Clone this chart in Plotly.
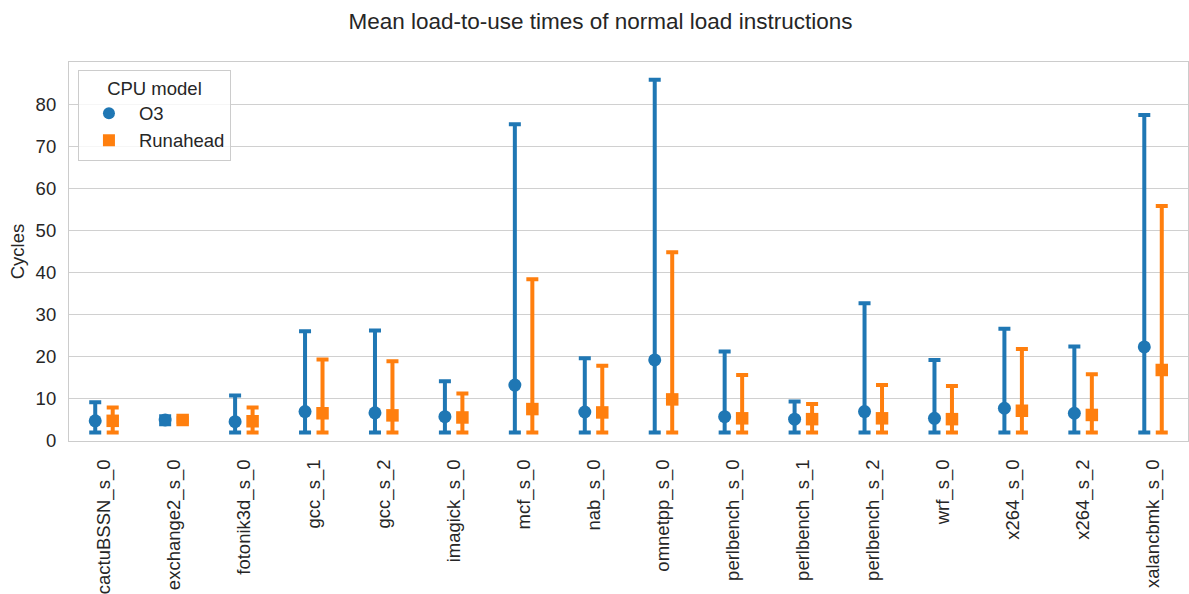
import plotly.graph_objects as go

# Benchmarks on the x axis
benchmarks = [
    "cactuBSSN_s_0", "exchange2_s_0", "fotonik3d_s_0", "gcc_s_1", "gcc_s_2",
    "imagick_s_0", "mcf_s_0", "nab_s_0", "omnetpp_s_0", "perlbench_s_0",
    "perlbench_s_1", "perlbench_s_2", "wrf_s_0", "x264_s_0", "x264_s_2",
    "xalancbmk_s_0",
]

# O3: mean load-to-use cycles with min/max range
o3_mean = [4.8, 5.0, 4.6, 7.0, 6.7, 5.8, 13.3, 6.9, 19.3, 5.8, 5.2, 7.0, 5.4, 7.8, 6.6, 22.4]
o3_min = [2.0, 4.0, 2.0, 2.0, 2.0, 2.0, 2.0, 2.0, 2.0, 2.0, 2.0, 2.0, 2.0, 2.0, 2.0, 2.0]
o3_max = [9.2, 5.9, 10.8, 26.1, 26.3, 14.2, 75.4, 19.7, 86.0, 21.3, 9.4, 32.8, 19.3, 26.7, 22.5, 77.6]

# Runahead: mean load-to-use cycles with min/max range
ra_mean = [4.8, 5.0, 4.7, 6.6, 6.1, 5.6, 7.6, 6.8, 9.9, 5.4, 5.2, 5.4, 5.2, 7.2, 6.2, 16.9]
ra_min = [2.0, 4.6, 2.0, 2.0, 2.0, 2.0, 2.0, 2.0, 2.0, 2.0, 2.0, 2.0, 2.0, 2.0, 2.0, 2.0]
ra_max = [8.0, 5.4, 8.0, 19.4, 19.0, 11.3, 38.5, 17.9, 44.9, 15.7, 8.8, 13.3, 13.1, 21.9, 15.9, 55.9]

y_ticks = [0, 10, 20, 30, 40, 50, 60, 70, 80]

TEXT = "#262626"
GRID = "#d0d0d0"
FONT = "Liberation Sans, Arial, sans-serif"
FS = 18.5
DODGE = 0.125

series = [
    ("O3", o3_mean, o3_min, o3_max, "#1f77b4", "circle", 13, -DODGE),
    ("Runahead", ra_mean, ra_min, ra_max, "#ff7f0e", "square", 12.5, DODGE),
]

fig = go.Figure()
for name, mean, lo, hi, color, symbol, size, off in series:
    xs = [k + off for k in range(len(benchmarks))]
    fig.add_trace(go.Scatter(
        x=xs, y=mean, mode="markers", name=name,
        legendgroup=name,
        marker=dict(color=color, symbol=symbol, size=size, line=dict(width=0)),
        error_y=dict(
            type="data", symmetric=False,
            array=[h - m for h, m in zip(hi, mean)],
            arrayminus=[m - l for m, l in zip(mean, lo)],
            color=color, thickness=4, width=6,
        ),
        hovertext=benchmarks,
    ))

fig.update_layout(
    width=1189, height=594,
    margin=dict(l=69, r=1, t=62, b=153),
    paper_bgcolor="white", plot_bgcolor="white",
    font=dict(family=FONT, color=TEXT, size=FS),
    title=dict(
        text="Mean load-to-use times of normal load instructions",
        x=0.505, xanchor="center", y=0.965, yanchor="middle",
        font=dict(size=22.5, color=TEXT, family=FONT),
    ),
    showlegend=True,
    legend=dict(
        title=dict(text="CPU model", side="top center", font=dict(size=FS, color=TEXT)),
        x=0.008, y=0.98, xanchor="left", yanchor="top",
        bgcolor="rgba(255,255,255,0.8)", bordercolor="#cccccc", borderwidth=1,
        font=dict(size=FS, color=TEXT),
        tracegroupgap=0,
        itemsizing="constant",
        itemwidth=50,
    ),
    xaxis=dict(
        range=[-0.5, len(benchmarks) - 0.5],
        tickmode="array", tickvals=list(range(len(benchmarks))), ticktext=benchmarks,
        tickangle=-90, showgrid=False, zeroline=False,
        showline=True, mirror=True, linecolor="#cccccc", linewidth=1.25,
        ticks="outside", ticklen=10, tickcolor="rgba(0,0,0,0)",
        tickfont=dict(size=FS, color=TEXT),
    ),
    yaxis=dict(
        range=[0, 90.2],
        tickmode="array", tickvals=y_ticks,
        showgrid=True, gridcolor=GRID, gridwidth=1, zeroline=False,
        showline=True, mirror=True, linecolor="#cccccc", linewidth=1.25,
        ticks="outside", ticklen=8, tickcolor="rgba(0,0,0,0)",
        tickfont=dict(size=FS, color=TEXT),
        title=dict(text="Cycles", font=dict(size=FS, color=TEXT), standoff=6),
    ),
)

fig.write_html("out.html")
